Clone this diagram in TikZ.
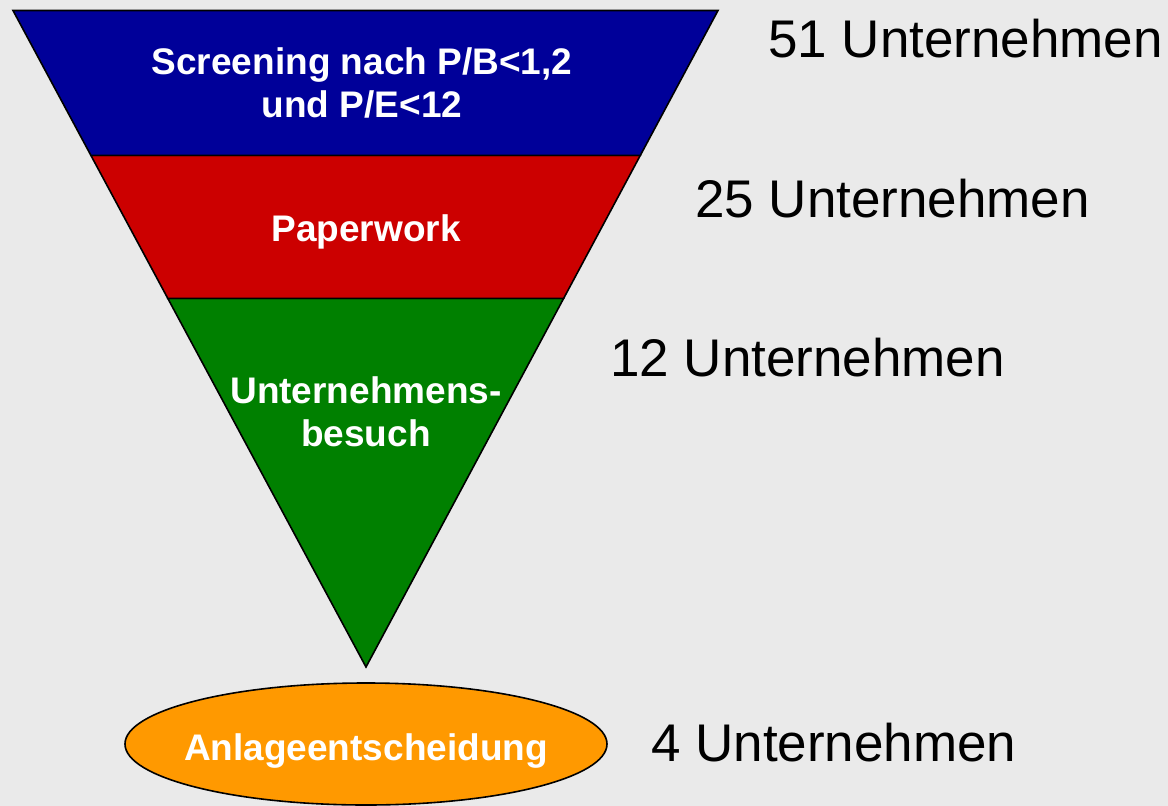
\documentclass[tikz,border=0pt]{standalone}
\usepackage{fontspec}
\setmainfont{Liberation Sans}
\usetikzlibrary{shapes.geometric,calc}
\definecolor{bgc}{HTML}{EAEAEA}
\definecolor{fblue}{HTML}{000099}
\definecolor{fred}{HTML}{CC0000}
\definecolor{fgreen}{HTML}{008000}
\definecolor{forange}{HTML}{FF9900}
\tikzset{
  band/.style={draw=black, line width=1.6pt, line join=miter},
  bandtext/.style={text=white, font=\bfseries\fontsize{37}{43}\selectfont, align=center, inner sep=0pt},
  countlabel/.style={text=black, font=\fontsize{53}{60}\selectfont, inner sep=0pt, anchor=base west},
}
\begin{document}
\begin{tikzpicture}[x=1pt,y=-1pt]
\fill[bgc] (0,0) rectangle (1168,806);
\useasboundingbox (0,0) rectangle (1168,806);
% funnel corners
\coordinate (tl) at (13,10.5);
\coordinate (tr) at (718,10.5);
\coordinate (apex) at (366,667);
\coordinate (l1) at ($(tl)!0.2207!(apex)$);
\coordinate (r1) at ($(tr)!0.2207!(apex)$);
\coordinate (l2) at ($(tl)!0.4384!(apex)$);
\coordinate (r2) at ($(tr)!0.4384!(apex)$);
\filldraw[band, fill=fgreen] (l2) -- (r2) -- (apex) -- cycle;
\filldraw[band, fill=fred] (l1) -- (r1) -- (r2) -- (l2) -- cycle;
\filldraw[band, fill=fblue] (tl) -- (tr) -- (r1) -- (l1) -- cycle;
\node[bandtext, anchor=base] (screen) at (362,117) {Screening nach P/B<1,2\\und P/E<12};
\node[bandtext, anchor=base] (paper) at (366,241) {Paperwork};
\node[bandtext, anchor=base] (visit) at (366,446) {Unternehmens-\\besuch};
\node[ellipse, draw=black, line width=1.6pt, fill=forange, minimum width=482pt, minimum height=122pt, inner sep=0pt] (decision) at (366,744) {};
\node[bandtext, anchor=base] (dectext) at (366,760) {Anlageentscheidung};
\node[countlabel] (c51) at (768,57) {51 Unternehmen};
\node[countlabel] (c25) at (695,217) {25 Unternehmen};
\node[countlabel] (c12) at (610,376) {12 Unternehmen};
\node[countlabel] (c4) at (651,761) {4 Unternehmen};
\end{tikzpicture}
\end{document}
